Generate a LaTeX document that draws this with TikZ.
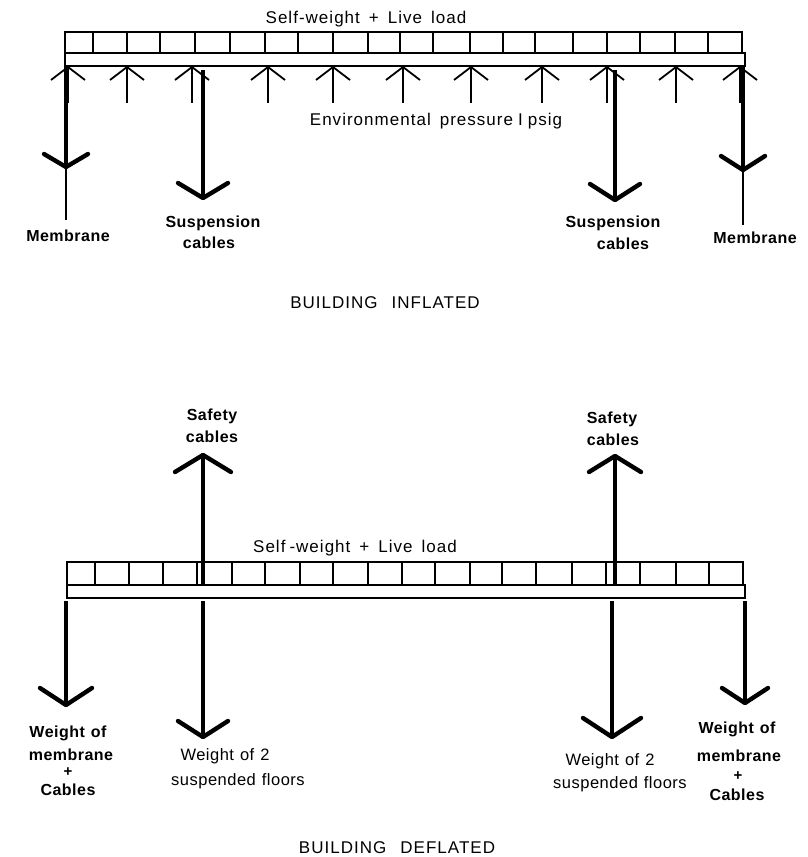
\documentclass[tikz,border=0pt]{standalone}
\usepackage{fontspec}
\setmainfont{Liberation Sans}
\newfontfamily\lab{Liberation Sans}[LetterSpace=6]
\newfontfamily\blab{Liberation Sans}[LetterSpace=3]
\newcommand{\Vdown}[4]{% x, tip y, half width, rise
  \draw[headline] (#1-#3,#2-#4) -- (#1,#2) -- (#1+#3,#2-#4);}
\newcommand{\Vup}[4]{%
  \draw[headline] (#1-#3,#2+#4) -- (#1,#2) -- (#1+#3,#2+#4);}
\begin{document}
\begin{tikzpicture}[x=1pt,y=-1pt,
  beamline/.style={line width=2.4pt, line join=miter},
  tickline/.style={line width=1.9pt},
  thinarrow/.style={line width=1.8pt},
  thickshaft/.style={line width=4pt},
  headline/.style={line width=4.4pt, line cap=round, line join=round},
  thinhead/.style={line width=1.8pt},
  normtxt/.style={font=\lab\fontsize{17}{20}\selectfont, inner sep=0pt, anchor=base},
  boldtxt/.style={font=\blab\bfseries\fontsize{16}{19}\selectfont, inner sep=0pt, anchor=base},
  plustxt/.style={font=\blab\bfseries\fontsize{15}{17}\selectfont, inner sep=0pt, anchor=base},
  medtxt/.style={font=\blab\fontsize{16.5}{19}\selectfont, inner sep=0pt, anchor=base}
]
\useasboundingbox (0,0) rectangle (808,857);

% ================= TOP: BUILDING INFLATED =================
\coordinate (tA) at (65,32);
\coordinate (tB) at (742,53);
\coordinate (tC) at (65,53);
\coordinate (tD) at (745,66);
\draw[beamline] (tA) rectangle (tB);
\draw[beamline] (tC) rectangle (tD);
\foreach \x in {93,127,160,195,230,265,298,333,368,400,433,470,503,535,573,607,640,675,708}
  \draw[tickline] (\x,32) -- (\x,53);

% environmental pressure arrows
\foreach \x in {68,127,192,268,333,403,471,542,607,676,740}{
  \draw[thinarrow] (\x,67) -- (\x,103);
  \draw[thinhead] (\x-17,80) -- (\x,67) -- (\x+17,80);
}

% membrane left
\draw[thickshaft] (66,66) -- (66,167);
\Vdown{66}{167}{22}{13}
\draw[thinarrow] (66,167) -- (66,220);
% suspension left
\draw[thickshaft] (203,70) -- (203,198);
\Vdown{203}{198}{25}{15}
% suspension right
\draw[thickshaft] (615,70) -- (615,200);
\Vdown{615}{200}{25}{16}
% membrane right
\draw[thickshaft] (743,66) -- (743,170);
\Vdown{743}{170}{22}{14}
\draw[thinarrow] (743,170) -- (743,225);

\node[normtxt] (tload) at (366,23) {Self-weight\hspace{9pt}+\hspace{9pt}Live\hspace{9pt}load};
\node[normtxt] (tenv) at (436,125) {Environmental\hspace{9pt}pressure\hspace{5pt}I\hspace{5pt}psig};
\node[boldtxt] (tmemL) at (68,241) {Membrane};
\node[boldtxt] (tsusL1) at (213,227) {Suspension};
\node[boldtxt] (tsusL2) at (209,248) {cables};
\node[boldtxt] (tsusR1) at (613,227) {Suspension};
\node[boldtxt] (tsusR2) at (623,249) {cables};
\node[boldtxt] (tmemR) at (755,243) {Membrane};
\node[normtxt] (ttitle) at (385,308) {BUILDING\hspace{14pt}INFLATED};

% ================= BOTTOM: BUILDING DEFLATED =================
\coordinate (bA) at (67,562);
\coordinate (bB) at (743,585);
\coordinate (bC) at (67,585);
\coordinate (bD) at (745,598);
\draw[beamline] (bA) rectangle (bB);
\draw[beamline] (bC) rectangle (bD);
\foreach \x in {95,129,163,197,232,265,300,333,368,402,435,470,502,536,572,606,640,676,709}
  \draw[tickline] (\x,562) -- (\x,585);

% safety cables (up)
\draw[thickshaft] (203,584) -- (203,455);
\Vup{203}{455}{28}{17}
\draw[thickshaft] (615,584) -- (615,456);
\Vup{615}{456}{26}{16}

% weights (down)
\draw[thickshaft] (66,601) -- (66,705);
\Vdown{66}{705}{26}{17}
\draw[thickshaft] (203,601) -- (203,737);
\Vdown{203}{737}{25}{16}
\draw[thickshaft] (612,601) -- (612,737);
\Vdown{612}{737}{29}{19}
\draw[thickshaft] (745,601) -- (745,703);
\Vdown{745}{703}{23}{15}

\node[boldtxt] (bsafL1) at (212,420) {Safety};
\node[boldtxt] (bsafL2) at (212,442) {cables};
\node[boldtxt] (bsafR1) at (612,423) {Safety};
\node[boldtxt] (bsafR2) at (613,445) {cables};
\node[normtxt] (bload) at (355,552) {Self\hspace{4pt}-weight\hspace{9pt}+\hspace{9pt}Live\hspace{9pt}load};

\node[boldtxt] (bwL1) at (68,737) {Weight\hspace{6pt}of};
\node[boldtxt] (bwL2) at (71,760) {membrane};
\node[plustxt] (bwL3) at (68,776) {+};
\node[boldtxt] (bwL4) at (68,795) {Cables};

\node[medtxt] (bfL1) at (225,760) {Weight\hspace{6pt}of\hspace{6pt}2};
\node[medtxt] (bfL2) at (238,785) {suspended\hspace{6pt}floors};
\node[medtxt] (bfR1) at (610,765) {Weight\hspace{6pt}of\hspace{6pt}2};
\node[medtxt] (bfR2) at (620,788) {suspended\hspace{6pt}floors};

\node[boldtxt] (bwR1) at (737,733) {Weight\hspace{6pt}of};
\node[boldtxt] (bwR2) at (739,761) {membrane};
\node[plustxt] (bwR3) at (738,780) {+};
\node[boldtxt] (bwR4) at (737,800) {Cables};

\node[normtxt] (btitle) at (397,853) {BUILDING\hspace{14pt}DEFLATED};
\end{tikzpicture}
\end{document}
